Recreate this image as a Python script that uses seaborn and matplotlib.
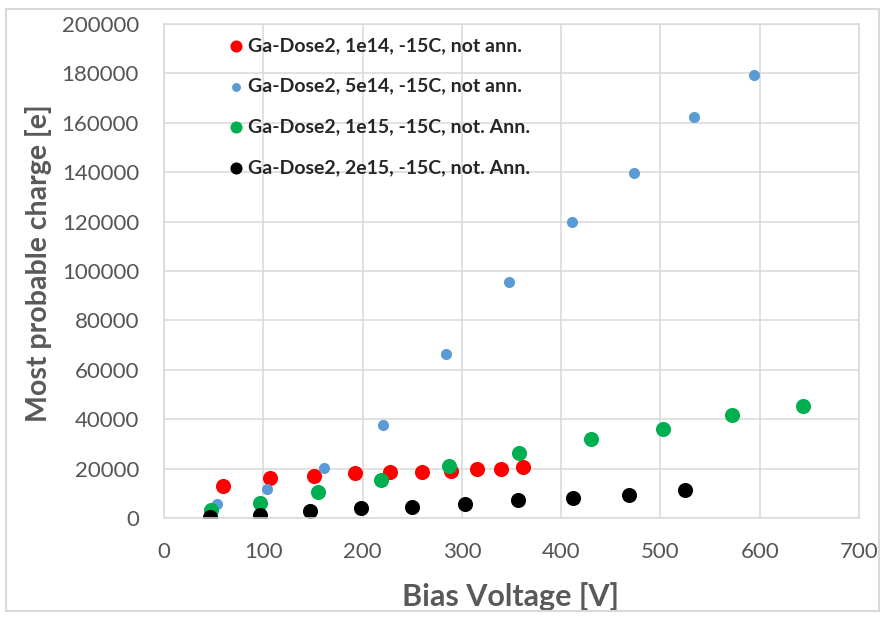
import matplotlib
matplotlib.use("Agg")
import matplotlib.pyplot as plt
import seaborn as sns
import pandas as pd
from matplotlib.patches import Rectangle

# bias voltage [V] and most probable charge [e]
v_1e14 = [59, 107, 151, 192, 228, 260, 289, 315, 339, 362]
q_1e14 = [13000, 16300, 17000, 18400, 18600, 18600, 19200, 20000, 20000, 20700]

v_5e14 = [53, 104, 161, 221, 284, 347, 411, 473, 534, 594]
q_5e14 = [5800, 11800, 20100, 37800, 66300, 95700, 120000, 139700, 162500, 179300]

v_1e15 = [47, 97, 155, 219, 287, 358, 430, 503, 572, 644]
q_1e15 = [3200, 6200, 10700, 15400, 21200, 26200, 32000, 36200, 41700, 45500]

v_2e15 = [46, 97, 147, 198, 250, 303, 357, 412, 468, 525]
q_2e15 = [500, 1400, 2700, 3900, 4500, 5600, 7300, 8100, 9300, 11500]

labels = ["Ga-Dose2, 1e14, -15C, not ann.",
          "Ga-Dose2, 5e14, -15C, not ann.",
          "Ga-Dose2, 1e15, -15C, not. Ann.",
          "Ga-Dose2, 2e15, -15C, not. Ann."]
colors = ["#FF0000", "#5B9BD5", "#00B050", "#000000"]
sizes = [118, 64, 118, 118]

series = [(v_1e14, q_1e14), (v_5e14, q_5e14), (v_1e15, q_1e15), (v_2e15, q_2e15)]
df = pd.concat([pd.DataFrame({"voltage": v, "charge": q, "series": lab})
                for (v, q), lab in zip(series, labels)], ignore_index=True)

sns.set_style("white")
plt.rcParams['font.family'] = ['Lato', 'DejaVu Sans']

W, H = 885, 617
fig = plt.figure(figsize=(W / 100, H / 100), dpi=100)
ax = fig.add_axes([164 / W, 1 - 518 / H, (859 - 164) / W, (518 - 24) / H])

for lab, col, s in zip(labels, colors, sizes):
    sub = df[df["series"] == lab]
    sns.scatterplot(data=sub, x="voltage", y="charge", color=col, s=s,
                    linewidth=0, ax=ax, label=lab)

ax.set_xlim(0, 700)
ax.set_ylim(0, 200000)
ax.set_xticks(range(0, 701, 100))
ax.set_yticks(range(0, 200001, 20000))
ax.grid(True, color="#D9D9D9", linewidth=1.1)
ax.set_axisbelow(True)
for sp in ax.spines.values():
    sp.set_color("#D9D9D9")
    sp.set_linewidth(1.1)

ax.tick_params(axis="both", length=0, labelsize=16, labelcolor="#555555")
ax.tick_params(axis="y", pad=18)
ax.tick_params(axis="x", pad=17)

ax.set_xlabel("Bias Voltage [V]", fontsize=22, fontweight="bold", color="#595959")
ax.set_ylabel("Most probable charge [e]", fontsize=20.5, fontweight="bold", color="#595959")
ax.xaxis.label.set_va("center")
ax.xaxis.set_label_coords(0.498, (518 - 597) / 494)
ax.yaxis.label.set_va("center")
ax.yaxis.set_label_coords((39 - 164) / 695, (518 - 263) / 494)

ax.legend(loc="upper left", bbox_to_anchor=(227 / W, 1 - 37 / H),
          bbox_transform=fig.transFigure, frameon=False,
          prop={"weight": "bold", "size": 14}, handlelength=0.9,
          handletextpad=0.2, labelspacing=1.22, borderpad=0, borderaxespad=0,
          markerscale=0.8)

fig.add_artist(Rectangle((6 / W, 1 - 611 / H), (879 - 6) / W, (611 - 9) / H,
                         transform=fig.transFigure, fill=False,
                         edgecolor="#D9D9D9", linewidth=1.5))

fig.savefig("out.png", dpi=100)
